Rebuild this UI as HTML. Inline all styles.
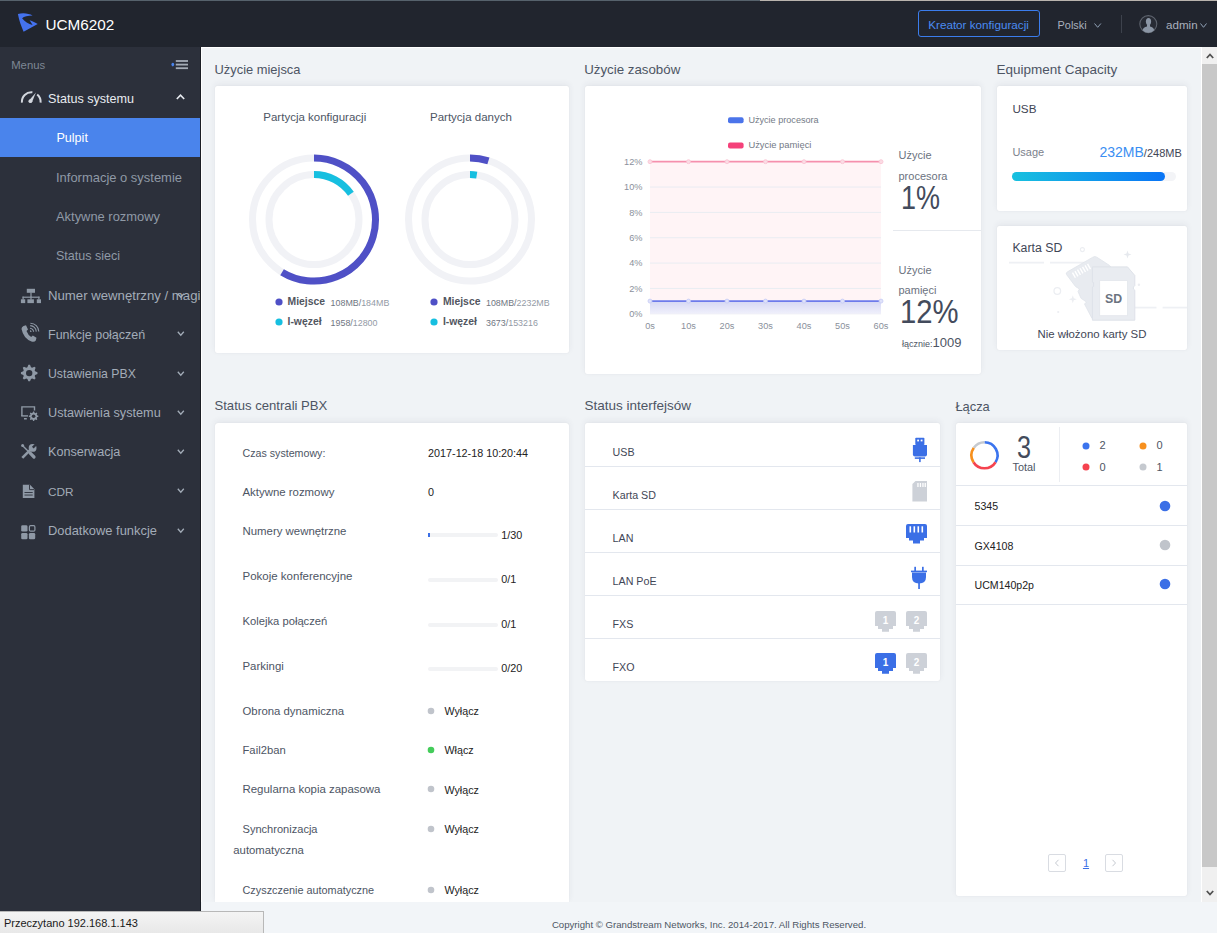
<!DOCTYPE html><html><head><meta charset="utf-8"><style>
html,body{margin:0;padding:0;width:1217px;height:933px;overflow:hidden;background:#f0f3f6;font-family:"Liberation Sans",sans-serif;}
.t{position:absolute;line-height:0;white-space:nowrap;}
.r{position:absolute;box-sizing:border-box;}
svg{position:absolute;overflow:visible;}
</style></head><body>
<div class="r" style="left:0px;top:0px;width:1217px;height:47px;background:#21252e;"></div>
<div class="r" style="left:0px;top:0px;width:760px;height:1px;background:#56626c;"></div>
<div class="r" style="left:760px;top:0px;width:457px;height:1px;background:#b9b4ae;"></div>
<div class="r" style="left:0px;top:47px;width:200px;height:864px;background:#2c303b;"></div>
<div class="r" style="left:200px;top:47px;width:1px;height:864px;background:#1b1e25;"></div>
<div class="r" style="left:201px;top:47px;width:1016px;height:1px;background:#ffffff;"></div>
<div class="r" style="left:201px;top:47px;width:1px;height:855px;background:#ffffff;"></div>
<svg style="left:0;top:0" width="50" height="40">
<path d="M17.9 14.1 C23 12.5 29 13.5 32.6 15.6 C28 15.8 24 16.5 22.1 18.2 C24.5 21.5 28.5 23.8 32.6 25.1 L29.6 20.3 C32.5 21.3 35.5 22.5 37.7 24.1 L23.6 31.8 C21 26 19 20 17.9 14.1Z" fill="#4472ee"/>
</svg><div class="t" style="left:45.40px;top:24.80px;font-size:15.3px;color:#ffffff;">UCM6202</div>
<div class="r" style="left:918px;top:10px;width:122px;height:27px;border:1px solid #3b7ded;border-radius:3px;"></div>
<div class="t" style="left:928.20px;top:24.95px;font-size:11.7px;color:#4b8cf2;">Kreator konfiguracji</div>
<div class="t" style="left:1057.60px;top:25.22px;font-size:10.9px;color:#a9b0bd;">Polski</div>
<svg style="left:1094px;top:23px" width="8" height="6"><path d="M0.5 0.5 L3.7 4.3 L6.9 0.5" stroke="#8fa0b5" fill="none" stroke-width="1"/></svg><div class="r" style="left:1121px;top:15px;width:1px;height:18px;background:#3d424c;"></div>
<svg style="left:1139px;top:15px" width="19" height="19" viewBox="0 0 19 19">
<circle cx="9.3" cy="9.1" r="8.5" fill="#272b34" stroke="#5d636d" stroke-width="1.1"/>
<ellipse cx="9.5" cy="6.6" rx="2.6" ry="3.6" fill="#8b96a5"/>
<path d="M8 9.5 H11 V11.5 Q14.5 12.2 15.2 15.2 Q12.5 17.8 9.3 17.8 Q6 17.8 3.6 15.2 Q4.3 12.2 8 11.5Z" fill="#8b96a5"/>
</svg><div class="t" style="left:1166.00px;top:24.98px;font-size:11.6px;color:#a9b0bd;">admin</div>
<svg style="left:1200px;top:23px" width="8" height="6"><path d="M0.5 0.5 L3.5 4.3 L6.5 0.5" stroke="#8fa0b5" fill="none" stroke-width="1"/></svg><div style="position:absolute;left:0;top:0;width:200px;height:911px;overflow:hidden"><div class="t" style="left:11.20px;top:65.48px;font-size:11.3px;color:#7e8794;">Menus</div>
<svg style="left:0;top:0" width="200" height="80">
<rect x="175.8" y="60.1" width="12.2" height="1.8" fill="#a4abb6"/><rect x="175.8" y="63.7" width="12.2" height="1.8" fill="#a4abb6"/><rect x="175.8" y="67.3" width="12.2" height="1.8" fill="#a4abb6"/>
<ellipse cx="172.8" cy="64.6" rx="1.4" ry="1.8" fill="#4a84ec"/></svg><svg style="left:0;top:0" width="50" height="110">
<path d="M21.9 102.6 A9.6 9.6 0 0 1 32.4 92.2" stroke="#d3d7de" stroke-width="2" fill="none"/>
<path d="M37.2 94.6 A9.6 9.6 0 0 1 40.6 102.6" stroke="#d3d7de" stroke-width="2" fill="none"/>
<circle cx="30.4" cy="101.2" r="1.9" fill="#d3d7de"/>
<path d="M28.6 100.9 L32.1 101.9 L35.9 92.4Z" fill="#d3d7de"/></svg><div class="t" style="left:48.00px;top:99.03px;font-size:12.6px;color:#e8ebf0;">Status systemu</div>
<svg style="left:176px;top:94px" width="9" height="6"><path d="M0.8 5 L4.5 1.2 L8.2 5" stroke="#e8ebf0" fill="none" stroke-width="1.6"/></svg><div class="r" style="left:0px;top:118px;width:200px;height:39px;background:#4a84ec;"></div>
<div class="t" style="left:56.40px;top:137.63px;font-size:12.6px;color:#ffffff;">Pulpit</div>
<div class="t" style="left:56.00px;top:177.51px;font-size:12.96px;color:#8f99a6;">Informacje o systemie</div>
<div class="t" style="left:56.00px;top:216.63px;font-size:12.91px;color:#8f99a6;">Aktywne rozmowy</div>
<div class="t" style="left:56.00px;top:255.86px;font-size:12.52px;color:#8f99a6;">Status sieci</div>
<div class="t" style="left:48.00px;top:295.93px;font-size:13.2px;color:#a3acb8;">Numer wewnętrzny / magistrala</div>
<svg style="left:177px;top:292.7px" width="8" height="6"><path d="M0.8 0.8 L3.8 4.2 L6.8 0.8" stroke="#a3acb8" fill="none" stroke-width="1.3"/></svg>
<div class="t" style="left:48.00px;top:334.87px;font-size:12.49px;color:#a3acb8;">Funkcje połączeń</div>
<svg style="left:177px;top:331.4px" width="8" height="6"><path d="M0.8 0.8 L3.8 4.2 L6.8 0.8" stroke="#a3acb8" fill="none" stroke-width="1.3"/></svg>
<div class="t" style="left:48.00px;top:374.45px;font-size:12.26px;color:#a3acb8;">Ustawienia PBX</div>
<svg style="left:177px;top:370.9px" width="8" height="6"><path d="M0.8 0.8 L3.8 4.2 L6.8 0.8" stroke="#a3acb8" fill="none" stroke-width="1.3"/></svg>
<div class="t" style="left:48.00px;top:413.21px;font-size:12.68px;color:#a3acb8;">Ustawienia systemu</div>
<svg style="left:177px;top:409.8px" width="8" height="6"><path d="M0.8 0.8 L3.8 4.2 L6.8 0.8" stroke="#a3acb8" fill="none" stroke-width="1.3"/></svg>
<div class="t" style="left:48.00px;top:452.02px;font-size:12.65px;color:#a3acb8;">Konserwacja</div>
<svg style="left:177px;top:448.6px" width="8" height="6"><path d="M0.8 0.8 L3.8 4.2 L6.8 0.8" stroke="#a3acb8" fill="none" stroke-width="1.3"/></svg>
<div class="t" style="left:48.00px;top:492.11px;font-size:11.8px;color:#a3acb8;">CDR</div>
<svg style="left:177px;top:488.4px" width="8" height="6"><path d="M0.8 0.8 L3.8 4.2 L6.8 0.8" stroke="#a3acb8" fill="none" stroke-width="1.3"/></svg>
<div class="t" style="left:48.00px;top:531.13px;font-size:12.9px;color:#a3acb8;">Dodatkowe funkcje</div>
<svg style="left:177px;top:527.8px" width="8" height="6"><path d="M0.8 0.8 L3.8 4.2 L6.8 0.8" stroke="#a3acb8" fill="none" stroke-width="1.3"/></svg>
<svg style="left:0;top:0" width="200" height="600">
<g fill="#8f99a6">
<rect x="26.8" y="288.8" width="8.2" height="4" />
<rect x="30.4" y="292.5" width="1.2" height="4.6"/>
<rect x="22.5" y="296.6" width="17" height="1.2"/>
<rect x="22.5" y="296.6" width="1.2" height="3"/><rect x="30.4" y="296.6" width="1.2" height="3"/><rect x="38.3" y="296.6" width="1.2" height="3"/>
<rect x="20.9" y="299.3" width="4.3" height="3.8"/><rect x="27.4" y="299.3" width="6.5" height="3.8"/><rect x="36.8" y="299.3" width="4.2" height="3.8"/>
</g>
<path d="M23.5 326 L26 325.3 L28 329.5 L26.5 331 Q28 335 31.2 337 L32.8 335.5 L36.5 337.8 L35.8 340.5 Q34.5 342.3 31.5 341.5 Q23.5 338.5 21.5 329 Q21.5 326.8 23.5 326Z" fill="#8f99a6"/>
<path d="M30 328.2 A4 4 0 0 1 33.6 331.8" stroke="#8f99a6" stroke-width="1.1" fill="none"/>
<path d="M30.2 325.6 A6.3 6.3 0 0 1 36.3 331.6" stroke="#8f99a6" stroke-width="1.1" fill="none"/>
<path d="M30.4 323.2 A8.6 8.6 0 0 1 38.8 331.5" stroke="#8f99a6" stroke-width="1.1" fill="none"/>
<path d="M30 330 L32 331.5 L30 332Z" fill="#8f99a6"/>
<polygon points="28.39,364.84 30.01,364.84 31.00,367.17 32.12,367.63 34.47,366.68 35.62,367.83 34.67,370.18 35.13,371.30 37.46,372.29 37.46,373.91 35.13,374.90 34.67,376.02 35.62,378.37 34.47,379.52 32.12,378.57 31.00,379.03 30.01,381.36 28.39,381.36 27.40,379.03 26.28,378.57 23.93,379.52 22.78,378.37 23.73,376.02 23.27,374.90 20.94,373.91 20.94,372.29 23.27,371.30 23.73,370.18 22.78,367.83 23.93,366.68 26.28,367.63 27.40,367.17" fill="#8f99a6"/><circle cx="29.2" cy="373.1" r="3.2" fill="#2c303b"/><path d="M21.9 416 V406.9 H34.5 V410.5" stroke="#8f99a6" stroke-width="1.4" fill="none"/>
<path d="M21.2 415.9 H28" stroke="#8f99a6" stroke-width="1.4"/>
<rect x="24" y="418" width="2.8" height="1.5" fill="#8f99a6"/>
<polygon points="33.13,411.52 34.07,411.52 34.65,412.86 35.30,413.13 36.65,412.59 37.31,413.25 36.77,414.60 37.04,415.25 38.38,415.83 38.38,416.77 37.04,417.35 36.77,418.00 37.31,419.35 36.65,420.01 35.30,419.47 34.65,419.74 34.07,421.08 33.13,421.08 32.55,419.74 31.90,419.47 30.55,420.01 29.89,419.35 30.43,418.00 30.16,417.35 28.82,416.77 28.82,415.83 30.16,415.25 30.43,414.60 29.89,413.25 30.55,412.59 31.90,413.13 32.55,412.86" fill="#8f99a6"/><circle cx="33.6" cy="416.3" r="1.8" fill="#2c303b"/><path d="M22.4 445.4 L29.5 452.5" stroke="#8f99a6" stroke-width="1.4"/>
<circle cx="22.6" cy="445.6" r="1.5" fill="#8f99a6"/>
<path d="M30.2 453.2 L34 457" stroke="#8f99a6" stroke-width="3.2" stroke-linecap="round"/>
<path d="M22.3 457.8 L31 449.2" stroke="#8f99a6" stroke-width="2.6"/>
<circle cx="32.6" cy="447.9" r="3.9" fill="#8f99a6"/>
<path d="M32.8 447.7 L37.5 443" stroke="#2c303b" stroke-width="2.4"/>
<path d="M22.8 484.8 H30 L34.4 489.2 V498 H22.8Z" fill="#8f99a6"/>
<path d="M29.5 484.8 V489.6 H34.4" stroke="#2c303b" stroke-width="0.9" fill="none"/>
<rect x="24.5" y="492" width="8.2" height="0.9" fill="#2c303b"/><rect x="24.5" y="494.6" width="8.2" height="0.9" fill="#2c303b"/>
<rect x="21.2" y="525.2" width="6.3" height="6.3" rx="1.3" fill="#8f99a6"/>
<rect x="29.4" y="525.7" width="5.5" height="5.5" rx="1.2" fill="none" stroke="#8f99a6" stroke-width="1.2"/>
<rect x="21.2" y="533" width="6.3" height="6.3" rx="1.3" fill="#8f99a6"/>
<rect x="28.9" y="533" width="6.3" height="6.3" rx="1.3" fill="#8f99a6"/>
</svg>
</div><div class="t" style="left:214.50px;top:69.73px;font-size:12.9px;color:#4d5564;">Użycie miejsca</div>
<div class="t" style="left:584.20px;top:69.59px;font-size:13.3px;color:#4d5564;">Użycie zasobów</div>
<div class="t" style="left:996.50px;top:69.52px;font-size:13.5px;color:#4d5564;">Equipment Capacity</div>
<div class="t" style="left:214.50px;top:406.36px;font-size:13.1px;color:#4d5564;">Status centrali PBX</div>
<div class="t" style="left:584.50px;top:405.92px;font-size:13.5px;color:#4d5564;">Status interfejsów</div>
<div class="t" style="left:955.40px;top:406.53px;font-size:12.9px;color:#4d5564;">Łącza</div>
<div class="r" style="left:215px;top:86px;width:354px;height:267px;background:#fff;border-radius:2px;box-shadow:0 -2px 6px rgba(50,60,80,0.07),0 0 1px rgba(0,0,0,0.10);"></div>
<div class="r" style="left:585px;top:86px;width:396px;height:288px;background:#fff;border-radius:2px;box-shadow:0 -2px 6px rgba(50,60,80,0.07),0 0 1px rgba(0,0,0,0.10);"></div>
<div class="r" style="left:997px;top:86px;width:190px;height:125px;background:#fff;border-radius:2px;box-shadow:0 -2px 6px rgba(50,60,80,0.07),0 0 1px rgba(0,0,0,0.10);"></div>
<div class="r" style="left:997px;top:226px;width:190px;height:124px;background:#fff;border-radius:2px;box-shadow:0 -2px 6px rgba(50,60,80,0.07),0 0 1px rgba(0,0,0,0.10);"></div>
<div class="r" style="left:215px;top:423px;width:354px;height:479px;background:#fff;border-radius:3px 3px 0 0;box-shadow:0 -2px 6px rgba(50,60,80,0.07),0 0 1px rgba(0,0,0,0.10);"></div>
<div class="r" style="left:585px;top:423px;width:355px;height:258px;background:#fff;border-radius:2px;box-shadow:0 -2px 6px rgba(50,60,80,0.07),0 0 1px rgba(0,0,0,0.10);"></div>
<div class="r" style="left:956px;top:423px;width:231px;height:473px;background:#fff;border-radius:2px;box-shadow:0 -2px 6px rgba(50,60,80,0.07),0 0 1px rgba(0,0,0,0.10);"></div>
<div class="r" style="left:1201px;top:47px;width:1px;height:855px;background:#fff;"></div>
<div class="r" style="left:1202px;top:47px;width:15px;height:855px;background:#f0f0f0;"></div>
<div class="r" style="left:1202px;top:64px;width:15px;height:803px;background:#c8c8c8;"></div>
<svg style="left:1206px;top:53px" width="8" height="6"><path d="M0.8 5 L4 1.5 L7.2 5" stroke="#505050" fill="none" stroke-width="1.8"/></svg>
<svg style="left:1206px;top:890px" width="8" height="6"><path d="M0.8 1 L4 4.5 L7.2 1" stroke="#505050" fill="none" stroke-width="1.8"/></svg>
<div class="r" style="left:201px;top:902px;width:1016px;height:31px;background:#f2f5f8;"></div>
<div class="t" style="left:551.90px;top:924.96px;font-size:9.65px;color:#4d5564;">Copyright © Grandstream Networks, Inc. 2014-2017. All Rights Reserved.</div>
<div class="r" style="left:0px;top:911px;width:264px;height:22px;background:linear-gradient(#f4f4f4,#e8e8e8);border:1px solid #b8b8b8;border-left:none;border-bottom:none;"></div>
<div class="t" style="left:4.00px;top:923.39px;font-size:11.0px;color:#1a1a1a;">Przeczytano 192.168.1.143</div>
<svg style="left:0;top:0" width="1217" height="933"><circle cx="314" cy="219.6" r="61.5" stroke="#f1f2f6" stroke-width="7" fill="none"/><circle cx="314" cy="219.6" r="45" stroke="#f1f2f6" stroke-width="7" fill="none"/><path d="M314.00 158.10 A61.5 61.5 0 1 1 282.05 272.15" stroke="#4f50c6" stroke-width="7" fill="none"/><path d="M314.00 174.60 A45 45 0 0 1 350.89 193.83" stroke="#16bfe0" stroke-width="7" fill="none"/><circle cx="470" cy="219.6" r="61.5" stroke="#f1f2f6" stroke-width="7" fill="none"/><circle cx="470" cy="219.6" r="45" stroke="#f1f2f6" stroke-width="7" fill="none"/><path d="M470.00 158.10 A61.5 61.5 0 0 1 488.41 160.92" stroke="#4f50c6" stroke-width="7" fill="none"/><path d="M470.00 174.60 A45 45 0 0 1 476.75 175.11" stroke="#16bfe0" stroke-width="7" fill="none"/></svg>
<div class="t" style="left:263.30px;top:116.72px;font-size:11.5px;color:#4d5564;">Partycja konfiguracji</div>
<div class="t" style="left:430.00px;top:116.72px;font-size:11.5px;color:#4d5564;">Partycja danych</div>
<svg style="left:275px;top:298px" width="8" height="30"><circle cx="4" cy="4" r="3.6" fill="#4f50c6"/><circle cx="4" cy="24" r="3.6" fill="#16bfe0"/></svg>
<div class="t" style="left:287.50px;top:302.40px;font-size:10.4px;color:#52565f;font-weight:bold;">Miejsce</div>
<div class="t" style="left:330.60px;top:302.92px;font-size:8.9px;color:#6f7682;">108MB/<span style="color:#939aa5">184MB</span></div>
<div class="t" style="left:287.50px;top:322.40px;font-size:10.4px;color:#52565f;font-weight:bold;">I-węzeł</div>
<div class="t" style="left:330.60px;top:322.92px;font-size:8.9px;color:#6f7682;">1958/<span style="color:#939aa5">12800</span></div>
<svg style="left:430.4px;top:298px" width="8" height="30"><circle cx="4" cy="4" r="3.6" fill="#4f50c6"/><circle cx="4" cy="24" r="3.6" fill="#16bfe0"/></svg>
<div class="t" style="left:442.90px;top:302.40px;font-size:10.4px;color:#52565f;font-weight:bold;">Miejsce</div>
<div class="t" style="left:486.00px;top:302.92px;font-size:8.9px;color:#6f7682;">108MB/<span style="color:#939aa5">2232MB</span></div>
<div class="t" style="left:442.90px;top:322.40px;font-size:10.4px;color:#52565f;font-weight:bold;">I-węzeł</div>
<div class="t" style="left:486.00px;top:322.92px;font-size:8.9px;color:#6f7682;">3673/<span style="color:#939aa5">153216</span></div>
<svg style="left:0;top:0" width="1217" height="933"><defs><linearGradient id="bg1" x1="0" y1="0" x2="0" y2="1"><stop offset="0" stop-color="#d6d8f4"/><stop offset="1" stop-color="#f0f0fb"/></linearGradient></defs><rect x="650" y="161.7" width="231" height="152.3" fill="#fff4f6"/><line x1="650" y1="187.05" x2="881" y2="187.05" stroke="#e9ecf2" stroke-width="1"/><line x1="650" y1="212.40" x2="881" y2="212.40" stroke="#e9ecf2" stroke-width="1"/><line x1="650" y1="237.75" x2="881" y2="237.75" stroke="#e9ecf2" stroke-width="1"/><line x1="650" y1="263.10" x2="881" y2="263.10" stroke="#e9ecf2" stroke-width="1"/><line x1="650" y1="288.45" x2="881" y2="288.45" stroke="#e9ecf2" stroke-width="1"/><line x1="650" y1="313.80" x2="881" y2="313.80" stroke="#e9ecf2" stroke-width="1"/><rect x="650" y="301.1" width="231" height="12.7" fill="url(#bg1)"/><line x1="650" y1="161.7" x2="881" y2="161.7" stroke="#f590ad" stroke-width="1.8"/><line x1="650" y1="301.1" x2="881" y2="301.1" stroke="#6d7beb" stroke-width="1.8"/><circle cx="650.00" cy="161.7" r="2" fill="#fbdbe4" stroke="#f9c3d2" stroke-width="0.8"/><circle cx="650.00" cy="301.1" r="2" fill="#dfe2fa" stroke="#c6ccf5" stroke-width="0.8"/><circle cx="688.50" cy="161.7" r="2" fill="#fbdbe4" stroke="#f9c3d2" stroke-width="0.8"/><circle cx="688.50" cy="301.1" r="2" fill="#dfe2fa" stroke="#c6ccf5" stroke-width="0.8"/><circle cx="727.00" cy="161.7" r="2" fill="#fbdbe4" stroke="#f9c3d2" stroke-width="0.8"/><circle cx="727.00" cy="301.1" r="2" fill="#dfe2fa" stroke="#c6ccf5" stroke-width="0.8"/><circle cx="765.50" cy="161.7" r="2" fill="#fbdbe4" stroke="#f9c3d2" stroke-width="0.8"/><circle cx="765.50" cy="301.1" r="2" fill="#dfe2fa" stroke="#c6ccf5" stroke-width="0.8"/><circle cx="804.00" cy="161.7" r="2" fill="#fbdbe4" stroke="#f9c3d2" stroke-width="0.8"/><circle cx="804.00" cy="301.1" r="2" fill="#dfe2fa" stroke="#c6ccf5" stroke-width="0.8"/><circle cx="842.50" cy="161.7" r="2" fill="#fbdbe4" stroke="#f9c3d2" stroke-width="0.8"/><circle cx="842.50" cy="301.1" r="2" fill="#dfe2fa" stroke="#c6ccf5" stroke-width="0.8"/><circle cx="881.00" cy="161.7" r="2" fill="#fbdbe4" stroke="#f9c3d2" stroke-width="0.8"/><circle cx="881.00" cy="301.1" r="2" fill="#dfe2fa" stroke="#c6ccf5" stroke-width="0.8"/><rect x="728" y="117.3" width="15.6" height="6" rx="2" fill="#4b74ea"/><rect x="728" y="142.5" width="15.6" height="6" rx="2" fill="#f5417a"/></svg>
<div class="t" style="left:748.40px;top:120.35px;font-size:9.1px;color:#737a86;">Użycie procesora</div>
<div class="t" style="left:748.40px;top:145.24px;font-size:9.4px;color:#737a86;">Użycie pamięci</div>
<div class="t" style="right:574.60px;top:161.81px;font-size:9.2px;color:#8a909b;">12%</div>
<div class="t" style="right:574.60px;top:187.16px;font-size:9.2px;color:#8a909b;">10%</div>
<div class="t" style="right:574.60px;top:212.51px;font-size:9.2px;color:#8a909b;">8%</div>
<div class="t" style="right:574.60px;top:237.86px;font-size:9.2px;color:#8a909b;">6%</div>
<div class="t" style="right:574.60px;top:263.21px;font-size:9.2px;color:#8a909b;">4%</div>
<div class="t" style="right:574.60px;top:288.56px;font-size:9.2px;color:#8a909b;">2%</div>
<div class="t" style="right:574.60px;top:313.91px;font-size:9.2px;color:#8a909b;">0%</div>
<div class="t" style="left:650.00px;transform:translateX(-50%);top:326.31px;font-size:9.2px;color:#8a909b;">0s</div>
<div class="t" style="left:688.50px;transform:translateX(-50%);top:326.31px;font-size:9.2px;color:#8a909b;">10s</div>
<div class="t" style="left:727.00px;transform:translateX(-50%);top:326.31px;font-size:9.2px;color:#8a909b;">20s</div>
<div class="t" style="left:765.50px;transform:translateX(-50%);top:326.31px;font-size:9.2px;color:#8a909b;">30s</div>
<div class="t" style="left:804.00px;transform:translateX(-50%);top:326.31px;font-size:9.2px;color:#8a909b;">40s</div>
<div class="t" style="left:842.50px;transform:translateX(-50%);top:326.31px;font-size:9.2px;color:#8a909b;">50s</div>
<div class="t" style="left:881.00px;transform:translateX(-50%);top:326.31px;font-size:9.2px;color:#8a909b;">60s</div>
<div class="r" style="left:893px;top:230px;width:88px;height:1px;background:#e6e9ee;"></div>
<div class="t" style="left:898.50px;top:155.19px;font-size:11px;color:#6b7280;">Użycie</div>
<div class="t" style="left:898.50px;top:176.19px;font-size:11px;color:#6b7280;">procesora</div>
<div class="t" style="left:900.50px;top:198.44px;font-size:32.5px;color:#434b5c;transform:scaleX(0.83);transform-origin:0 0;">1%</div>
<div class="t" style="left:898.50px;top:270.49px;font-size:11px;color:#6b7280;">Użycie</div>
<div class="t" style="left:898.50px;top:290.19px;font-size:11px;color:#6b7280;">pamięci</div>
<div class="t" style="left:899.50px;top:312.34px;font-size:32.5px;color:#434b5c;transform:scaleX(0.9);transform-origin:0 0;">12%</div>
<div class="t" style="left:902.00px;top:342.68px;font-size:9px;color:#4d5564;">łącznie:<span style="font-size:13px">1009</span></div>
<div class="t" style="left:1012.40px;top:109.15px;font-size:11.7px;color:#3f4656;">USB</div>
<div class="t" style="left:1012.40px;top:151.89px;font-size:11px;color:#7b818c;">Usage</div>
<div class="t" style="left:1099.50px;top:152.35px;font-size:14.0px;color:#3a8ef2;">232MB<span style="font-size:11px;color:#3f4656">/248MB</span></div>
<div class="r" style="left:1012px;top:172px;width:164px;height:9px;background:#f3f4f7;border-radius:5px;"></div>
<div class="r" style="left:1012px;top:172px;width:153px;height:9px;background:linear-gradient(90deg,#18c1df,#0974f6);border-radius:5px;"></div>
<div class="t" style="left:1012.40px;top:247.64px;font-size:12.3px;color:#3f4656;">Karta SD</div>
<div class="t" style="left:1037.50px;top:334.25px;font-size:11.4px;color:#3f4656;">Nie włożono karty SD</div>
<svg style="left:1005px;top:250px" width="182" height="75" viewBox="0 0 182 75">
<line x1="4" y1="12.6" x2="39" y2="12.6" stroke="#eef0f4" stroke-width="1.8"/>
<line x1="45" y1="12.6" x2="80" y2="12.6" stroke="#eef0f4" stroke-width="1.8"/>
<line x1="130" y1="57.6" x2="151.5" y2="57.6" stroke="#eef0f4" stroke-width="1.8"/>
<line x1="157.6" y1="57.6" x2="182" y2="57.6" stroke="#eef0f4" stroke-width="1.8"/>
<circle cx="52.3" cy="41" r="3.3" fill="none" stroke="#eceef2" stroke-width="1.3"/>
<circle cx="77.4" cy="-0.4" r="2" fill="none" stroke="#eceef2" stroke-width="1.1"/>
<circle cx="133.9" cy="34.7" r="1.2" fill="#eceef2"/>
<circle cx="53.2" cy="62" r="1.1" fill="#eceef2"/>
<path d="M122.5 0.6 l1 3 3 1 -3 1 -1 3 -1 -3 -3 -1 3 -1z" fill="#e6e9ee"/>
<path d="M67.8 45.3 l1 3 3 1 -3 1 -1 3 -1 -3 -3 -1 3 -1z" fill="#eceef2"/>
<path d="M87.5 7.4 Q89.7 6 91.5 7 L104.5 15.4 Q106.5 17 107 19.5 L110 68 L87 68.4 L79.5 54 L81.5 52 L76 48.3 L73 41.5 L74.5 39 L70.5 36.5 L61.5 24.5 Q60.5 22.8 62.5 21.8Z" fill="#e8ebf0" stroke="#dfe3ea" stroke-width="0.8"/>
<g fill="#fff" transform="rotate(-29.7 75 15) translate(1.5 0)">
<rect x="62.5" y="17.8" width="1.4" height="6"/><rect x="65.4" y="17.8" width="1.4" height="6"/><rect x="68.3" y="17.8" width="1.4" height="6"/><rect x="71.2" y="17.8" width="1.4" height="6"/><rect x="74.1" y="17.8" width="1.4" height="6"/><rect x="77" y="17.8" width="1.4" height="6"/><rect x="79.9" y="17.8" width="1.4" height="6"/>
</g>
<path d="M87.4 16.9 H122.5 L129.8 25.5 V35.6 L128.4 37 V39 L129.8 40.2 V70.2 H87.4 V37 L88.6 36.4 V32.6 L87.4 32.2Z" fill="#e9ecf1" stroke="#dee2e9" stroke-width="1"/>
<rect x="94.7" y="30.6" width="27.8" height="35.1" fill="#fff" stroke="#e3e6ec" stroke-width="0.8"/>
<text x="108.6" y="52.9" font-family="Liberation Sans" font-weight="bold" font-size="12.3" fill="#6b7380" text-anchor="middle">SD</text>
</svg>
<div class="t" style="left:242.50px;top:453.40px;font-size:10.67px;color:#4d5564;">Czas systemowy:</div>
<div class="t" style="left:428.10px;top:453.27px;font-size:10.77px;color:#222;">2017-12-18 10:20:44</div>
<div class="t" style="left:242.50px;top:491.74px;font-size:11.42px;color:#4d5564;">Aktywne rozmowy</div>
<div class="t" style="left:428.10px;top:492.26px;font-size:10.8px;color:#222;">0</div>
<div class="t" style="left:242.50px;top:530.75px;font-size:11.41px;color:#4d5564;">Numery wewnętrzne</div>
<div class="r" style="left:428px;top:533px;width:70px;height:4px;background:#f2f3f5;border-radius:2px;"></div>
<div class="r" style="left:428px;top:533px;width:2px;height:4px;background:#3b6fe6;"></div>
<div class="t" style="left:501.20px;top:534.66px;font-size:10.8px;color:#222;">1/30</div>
<div class="t" style="left:242.50px;top:575.82px;font-size:11.5px;color:#4d5564;">Pokoje konferencyjne</div>
<div class="r" style="left:428px;top:578px;width:70px;height:4px;background:#f2f3f5;border-radius:2px;"></div>
<div class="t" style="left:501.20px;top:579.26px;font-size:10.8px;color:#222;">0/1</div>
<div class="t" style="left:242.50px;top:621.31px;font-size:11.22px;color:#4d5564;">Kolejka połączeń</div>
<div class="r" style="left:428px;top:623px;width:70px;height:4px;background:#f2f3f5;border-radius:2px;"></div>
<div class="t" style="left:501.20px;top:623.86px;font-size:10.8px;color:#222;">0/1</div>
<div class="t" style="left:242.50px;top:665.84px;font-size:11.43px;color:#4d5564;">Parkingi</div>
<div class="r" style="left:428px;top:667px;width:70px;height:4px;background:#f2f3f5;border-radius:2px;"></div>
<div class="t" style="left:501.20px;top:668.46px;font-size:10.8px;color:#222;">0/20</div>
<div class="t" style="left:242.50px;top:710.86px;font-size:11.36px;color:#4d5564;">Obrona dynamiczna</div>
<svg style="left:427px;top:706.8px" width="8" height="8"><circle cx="4" cy="4" r="3.3" fill="#c0c4cb"/></svg>
<div class="t" style="left:444.50px;top:711.09px;font-size:10.7px;color:#222;">Wyłącz</div>
<div class="t" style="left:242.50px;top:750.00px;font-size:11.26px;color:#4d5564;">Fail2ban</div>
<svg style="left:427px;top:745.9px" width="8" height="8"><circle cx="4" cy="4" r="3.3" fill="#44cc5a"/></svg>
<div class="t" style="left:444.50px;top:750.19px;font-size:10.7px;color:#222;">Włącz</div>
<div class="t" style="left:242.50px;top:789.34px;font-size:11.44px;color:#4d5564;">Regularna kopia zapasowa</div>
<svg style="left:427px;top:785.3px" width="8" height="8"><circle cx="4" cy="4" r="3.3" fill="#c0c4cb"/></svg>
<div class="t" style="left:444.50px;top:789.59px;font-size:10.7px;color:#222;">Wyłącz</div>
<div class="t" style="left:242.50px;top:828.86px;font-size:11.07px;color:#4d5564;">Synchronizacja</div>
<svg style="left:427px;top:824.7px" width="8" height="8"><circle cx="4" cy="4" r="3.3" fill="#c0c4cb"/></svg>
<div class="t" style="left:444.50px;top:828.99px;font-size:10.7px;color:#222;">Wyłącz</div>
<div class="t" style="left:242.50px;top:890.03px;font-size:10.87px;color:#4d5564;">Czyszczenie automatyczne</div>
<svg style="left:427px;top:885.8px" width="8" height="8"><circle cx="4" cy="4" r="3.3" fill="#c0c4cb"/></svg>
<div class="t" style="left:444.50px;top:890.09px;font-size:10.7px;color:#222;">Wyłącz</div>
<div class="t" style="left:233.30px;top:850.08px;font-size:11.32px;color:#4d5564;">automatyczna</div>
<div class="t" style="left:612.60px;top:452.09px;font-size:10.7px;color:#3f4656;">USB</div>
<div class="r" style="left:585px;top:466px;width:355px;height:1px;background:#e3e7ee;"></div>
<div class="t" style="left:612.60px;top:495.09px;font-size:10.7px;color:#3f4656;">Karta SD</div>
<div class="r" style="left:585px;top:509px;width:355px;height:1px;background:#e3e7ee;"></div>
<div class="t" style="left:612.60px;top:538.09px;font-size:10.7px;color:#3f4656;">LAN</div>
<div class="r" style="left:585px;top:552px;width:355px;height:1px;background:#e3e7ee;"></div>
<div class="t" style="left:612.60px;top:581.09px;font-size:10.7px;color:#3f4656;">LAN PoE</div>
<div class="r" style="left:585px;top:595px;width:355px;height:1px;background:#e3e7ee;"></div>
<div class="t" style="left:612.60px;top:624.09px;font-size:10.7px;color:#3f4656;">FXS</div>
<div class="r" style="left:585px;top:638px;width:355px;height:1px;background:#e3e7ee;"></div>
<div class="t" style="left:612.60px;top:667.09px;font-size:10.7px;color:#3f4656;">FXO</div>
<svg style="left:0;top:0" width="1217" height="933">
<rect x="915.3" y="437.7" width="9.1" height="7.3" rx="0.8" fill="#3b6fe6"/>
<rect x="917.2" y="439.6" width="1.8" height="1.8" fill="#fff"/><rect x="920.7" y="439.6" width="1.8" height="1.8" fill="#fff"/>
<path d="M912.9 445 H927 V454.5 Q927 456.5 925 456.5 H915 Q912.9 456.5 912.9 454.5Z" fill="#3b6fe6"/>
<rect x="914.8" y="457.3" width="10.2" height="1.6" fill="#3b6fe6"/>
<rect x="919.1" y="457.3" width="1.6" height="4.8" fill="#3b6fe6"/>
<path d="M915.5 481 H927 V501.5 H912.4 V484Z" fill="#cdd1d8"/>
<rect x="917.3" y="483" width="1.3" height="4" fill="#fff"/><rect x="919.8" y="483" width="1.3" height="4" fill="#fff"/><rect x="922.3" y="483" width="1.3" height="4" fill="#fff"/><rect x="924.6" y="483" width="1.3" height="4" fill="#fff"/>
<path d="M908 524 H925 Q927 524 927 526 V538 H924 V540.5 H920 V543.5 H913 V540.5 H909 V538 H906 V526 Q906 524 908 524Z" fill="#3b6fe6"/>
<rect x="909.5" y="526.3" width="1.6" height="6.2" fill="#fff"/><rect x="913.5" y="526.3" width="1.6" height="6.2" fill="#fff"/><rect x="917.5" y="526.3" width="1.6" height="6.2" fill="#fff"/><rect x="921.5" y="526.3" width="1.6" height="6.2" fill="#fff"/>
<rect x="914.3" y="566.8" width="1.7" height="5" fill="#3b6fe6"/><rect x="922" y="566.8" width="1.7" height="5" fill="#3b6fe6"/>
<rect x="911" y="570.6" width="16" height="1.6" fill="#3b6fe6"/>
<path d="M912 572.5 H926 V577 Q926 583.5 919 583.5 Q912 583.5 912 577Z" fill="#3b6fe6"/>
<rect x="918.2" y="583" width="1.7" height="6" fill="#3b6fe6"/>
<path d="M877 611.1 H894 Q896 611.1 896 613.1 V626.1 H893 V629.1 H889 V631.8000000000001 H882 V629.1 H878 V626.1 H875 V613.1 Q875 611.1 877 611.1Z" fill="#cdd1d8"/>
<text x="885.5" y="624.1" font-family="Liberation Sans" font-weight="bold" font-size="10" fill="#fff" text-anchor="middle">1</text><path d="M908 611.1 H925 Q927 611.1 927 613.1 V626.1 H924 V629.1 H920 V631.8000000000001 H913 V629.1 H909 V626.1 H906 V613.1 Q906 611.1 908 611.1Z" fill="#cdd1d8"/>
<text x="916.5" y="624.1" font-family="Liberation Sans" font-weight="bold" font-size="10" fill="#fff" text-anchor="middle">2</text><path d="M877 653 H894 Q896 653 896 655 V668 H893 V671 H889 V673.7 H882 V671 H878 V668 H875 V655 Q875 653 877 653Z" fill="#3b6fe6"/>
<text x="885.5" y="666" font-family="Liberation Sans" font-weight="bold" font-size="10" fill="#fff" text-anchor="middle">1</text><path d="M908 653 H925 Q927 653 927 655 V668 H924 V671 H920 V673.7 H913 V671 H909 V668 H906 V655 Q906 653 908 653Z" fill="#cdd1d8"/>
<text x="916.5" y="666" font-family="Liberation Sans" font-weight="bold" font-size="10" fill="#fff" text-anchor="middle">2</text></svg>
<svg style="left:969px;top:440px" width="31" height="31" viewBox="0 0 31 31"><path d="M15.50 2.30 A13 13 0 0 1 26.52 22.19" stroke="#3b74ee" stroke-width="2.6" fill="none"/><path d="M26.52 22.19 A13 13 0 0 1 4.48 22.19" stroke="#f5434f" stroke-width="2.6" fill="none"/><path d="M4.48 22.19 A13 13 0 0 1 4.85 7.84" stroke="#f7901e" stroke-width="2.6" fill="none"/><path d="M4.85 7.84 A13 13 0 0 1 15.50 2.30" stroke="#c5c9cf" stroke-width="2.6" fill="none"/></svg>
<div class="t" style="left:1016.60px;top:446.79px;font-size:31.5px;color:#434b5c;transform:scaleX(0.8);transform-origin:0 0;">3</div>
<div class="t" style="left:1012.50px;top:466.72px;font-size:10.9px;color:#4d5564;">Total</div>
<div class="r" style="left:1059px;top:427px;width:1px;height:55px;background:#eceef2;"></div>
<div class="r" style="left:956px;top:485px;width:231px;height:1px;background:#e3e7ee;"></div>
<svg style="left:1081.6px;top:441.6px" width="8" height="8"><circle cx="4" cy="4" r="3.5" fill="#3b74ee"/></svg>
<div class="t" style="left:1099.50px;top:445.29px;font-size:11px;color:#4d5564;">2</div>
<svg style="left:1138.5px;top:441.6px" width="8" height="8"><circle cx="4" cy="4" r="3.5" fill="#f7901e"/></svg>
<div class="t" style="left:1156.40px;top:445.29px;font-size:11px;color:#4d5564;">0</div>
<svg style="left:1081.6px;top:463.2px" width="8" height="8"><circle cx="4" cy="4" r="3.5" fill="#f5434f"/></svg>
<div class="t" style="left:1099.50px;top:466.89px;font-size:11px;color:#4d5564;">0</div>
<svg style="left:1138.5px;top:463.2px" width="8" height="8"><circle cx="4" cy="4" r="3.5" fill="#c5c9cf"/></svg>
<div class="t" style="left:1156.40px;top:466.89px;font-size:11px;color:#4d5564;">1</div>
<div class="t" style="left:974.50px;top:506.43px;font-size:10.6px;color:#222;">5345</div>
<div class="r" style="left:956px;top:525px;width:231px;height:1px;background:#e3e7ee;"></div>
<svg style="left:1159px;top:499.7px" width="12" height="12"><circle cx="6" cy="6" r="5.3" fill="#3b6fe6"/></svg>
<div class="t" style="left:974.50px;top:545.73px;font-size:10.6px;color:#222;">GX4108</div>
<div class="r" style="left:956px;top:565px;width:231px;height:1px;background:#e3e7ee;"></div>
<svg style="left:1159px;top:539.0px" width="12" height="12"><circle cx="6" cy="6" r="5.3" fill="#c0c4cb"/></svg>
<div class="t" style="left:974.50px;top:585.03px;font-size:10.6px;color:#222;">UCM140p2p</div>
<div class="r" style="left:956px;top:604px;width:231px;height:1px;background:#e3e7ee;"></div>
<svg style="left:1159px;top:578.3px" width="12" height="12"><circle cx="6" cy="6" r="5.3" fill="#3b6fe6"/></svg>
<div class="r" style="left:1048px;top:854px;width:18px;height:18px;border:1px solid #d9dce2;border-radius:2px;"></div>
<div class="r" style="left:1105px;top:854px;width:18px;height:18px;border:1px solid #d9dce2;border-radius:2px;"></div>
<svg style="left:1054px;top:859px" width="6" height="8"><path d="M4.5 0.8 L1.5 4 L4.5 7.2" stroke="#c6cad1" fill="none" stroke-width="1"/></svg>
<svg style="left:1111px;top:859px" width="6" height="8"><path d="M1.5 0.8 L4.5 4 L1.5 7.2" stroke="#c6cad1" fill="none" stroke-width="1"/></svg>
<div class="t" style="left:1086.00px;transform:translateX(-50%);top:863.19px;font-size:11px;color:#3b6fe6;"><span style="text-decoration:underline">1</span></div>
</body></html>
